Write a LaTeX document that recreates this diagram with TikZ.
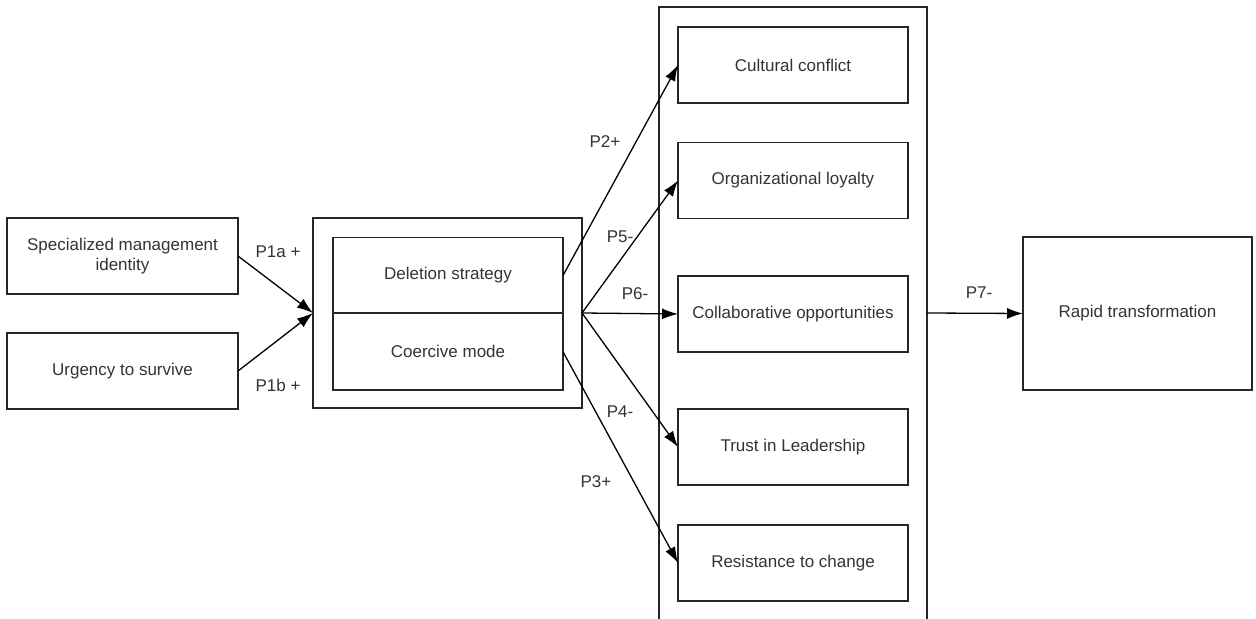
\documentclass[tikz,border=0pt]{standalone}
\usepackage{fontspec}
\setmainfont{Liberation Sans}
\usetikzlibrary{arrows.meta}

\begin{document}
\begin{tikzpicture}[x=0.5pt,y=-0.5pt,
  box/.style = {draw=black!85, line width=0.8pt, inner sep=0pt, outer sep=0pt, text=black!80, font=\fontsize{8.5}{10}\selectfont, align=center},
  lab/.style = {text=black!80, font=\fontsize{8.5}{10}\selectfont, inner sep=0pt},
  arr/.style = {line width=0.65pt, -{Latex[length=8pt,width=5.5pt]}}]

\useasboundingbox (0,0) rectangle (1256,619);

% left side
\node[box, minimum width=115.5pt, minimum height=38pt] (spec) at (122.5,256) {Specialized management\\identity};
\node[box, minimum width=115.5pt, minimum height=38pt] (urg) at (122.5,371) {Urgency to survive};

% strategy block
\node[box, minimum width=134.5pt, minimum height=95pt] (outer) at (447.5,313) {};
\node[box, minimum width=115pt, minimum height=38pt] (del) at (448,275.5) {Deletion strategy};
\node[box, minimum width=115pt, minimum height=38.5pt] (coe) at (448,351.75) {Coercive mode};

% outcome container (open at the bottom)
\draw[black!85, line width=0.8pt] (659,619) -- (659,7) -- (927,7) -- (927,619);
\coordinate (contE) at (927,313);

\node[box, minimum width=115pt, minimum height=38pt] (cult) at (793,65) {Cultural conflict};
\node[box, minimum width=115pt, minimum height=38pt] (loy) at (793,180.5) {Organizational loyalty};
\node[box, minimum width=115pt, minimum height=38pt] (coll) at (793,314) {Collaborative opportunities};
\node[box, minimum width=115pt, minimum height=38pt] (trust) at (793,447) {Trust in Leadership};
\node[box, minimum width=115pt, minimum height=38pt] (res) at (793,563) {Resistance to change};

\node[box, minimum width=114.5pt, minimum height=76.5pt] (rapid) at (1137.5,313.5) {Rapid transformation};

% arrows
\foreach \a/\b in {spec.east/outer.west, urg.east/outer.west, del.east/cult.west, outer.east/loy.west, outer.east/coll.west, outer.east/trust.west, coe.east/res.west, contE/rapid.west}
{\draw[arr] (\a) -- (\b);}

% labels
\node[lab] (p1a) at (278,252) {P1a +};
\node[lab] (p1b) at (278,385) {P1b +};
\node[lab] (p2) at (605,142) {P2+};
\node[lab] (p5) at (620,237) {P5-};
\node[lab] (p6) at (635,294) {P6-};
\node[lab] (p4) at (620,412) {P4-};
\node[lab] (p3) at (596,482) {P3+};
\node[lab] (p7) at (979,293) {P7-};

\end{tikzpicture}
\end{document}
